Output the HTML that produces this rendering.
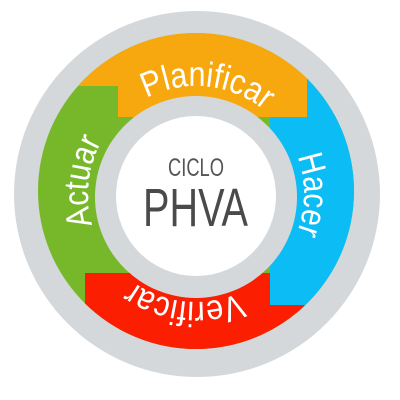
<!DOCTYPE html>
<html><head><style>html,body{margin:0;padding:0;background:#fff;}svg{display:block}</style></head>
<body>
<svg width="400" height="400" viewBox="0 0 400 400" xmlns="http://www.w3.org/2000/svg">
<defs>
<clipPath id="c"><circle cx="196" cy="191" r="158"/></clipPath>
<path id="p" d="M196,86 A108,108 0 1,1 196,302 A108,108 0 1,1 196,86 A108,108 0 1,1 196,302 A108,108 0 1,1 196,86"/>
</defs>
<circle cx="197" cy="194" r="183" fill="#d4d8da"/>
<g clip-path="url(#c)">
<rect x="0" y="0" width="400" height="400" fill="#77b82a"/>
<polygon points="0,0 307,0 307,117 118,117 118,86 0,86" fill="#f8a80f"/>
<polygon points="307,0 400,0 400,305 270,305 270,117 307,117" fill="#0bbcf5"/>
<polygon points="85,273 270,273 270,305 400,305 400,400 85,400" fill="#fb1e00"/>
</g>
<circle cx="196" cy="197" r="101" fill="#d4d8da"/>
<circle cx="196" cy="196" r="80" fill="#fff"/>
<g font-family="Liberation Sans, sans-serif" font-size="35" fill="#fff">
<text><textPath href="#p" startOffset="689" text-anchor="middle" textLength="125" lengthAdjust="spacingAndGlyphs">Planificar</textPath></text>
<text><textPath href="#p" startOffset="848" text-anchor="middle" textLength="78" lengthAdjust="spacingAndGlyphs">Hacer</textPath></text>
<text><textPath href="#p" startOffset="1028" text-anchor="middle" textLength="112" lengthAdjust="spacingAndGlyphs">Verificar</textPath></text>
<text><textPath href="#p" startOffset="1198" text-anchor="middle" textLength="86" lengthAdjust="spacingAndGlyphs">Actuar</textPath></text>
</g>
<text x="168" y="176" textLength="56" lengthAdjust="spacingAndGlyphs" font-family="Liberation Sans, sans-serif" font-size="25" fill="#555">CICLO</text>
<text x="143" y="226" textLength="105" lengthAdjust="spacingAndGlyphs" font-family="Liberation Sans, sans-serif" font-size="54" fill="#4a4a4a">PHVA</text>
</svg>
</body></html>
